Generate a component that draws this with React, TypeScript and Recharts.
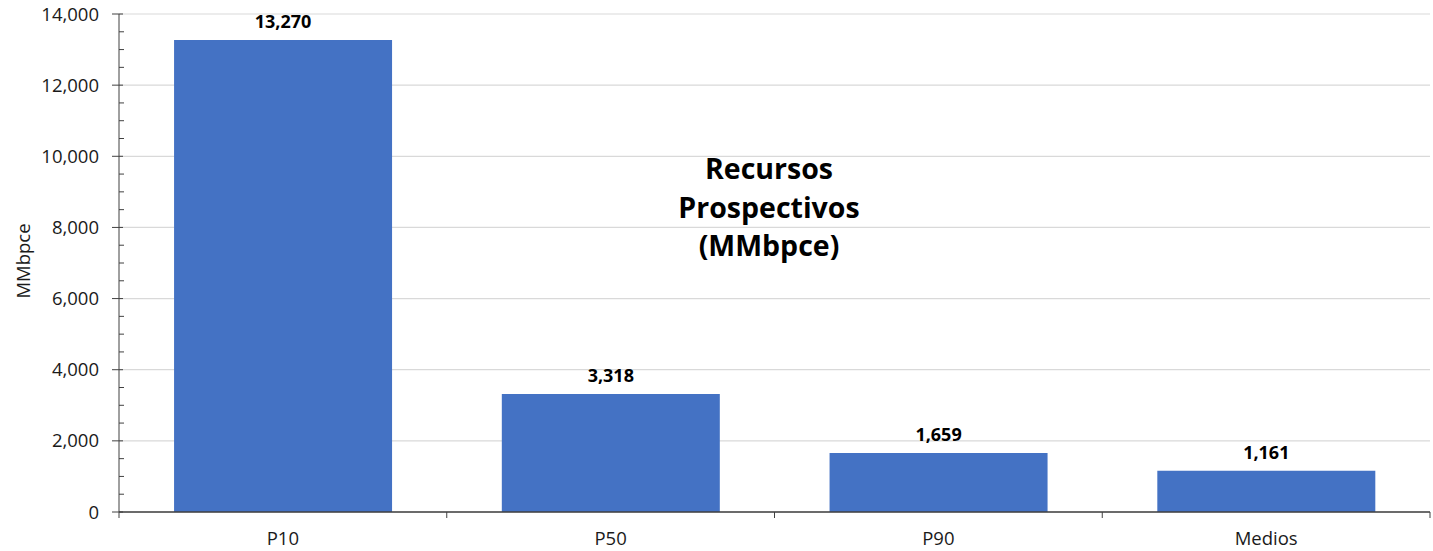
import React from 'react';
import { BarChart, Bar, XAxis, YAxis, CartesianGrid, LabelList, Customized } from 'recharts';

const categories = ['P10', 'P50', 'P90', 'Medios'];
const values = [13270, 3318, 1659, 1161];
const majorTicks = [0, 2000, 4000, 6000, 8000, 10000, 12000, 14000];
const allTicks = [0, 500, 1000, 1500, 2000, 2500, 3000, 3500, 4000, 4500, 5000, 5500, 6000, 6500, 7000, 7500, 8000, 8500, 9000, 9500, 10000, 10500, 11000, 11500, 12000, 12500, 13000, 13500, 14000];
const titleLines = ['Recursos', 'Prospectivos', '(MMbpce)'];
const yLabel = 'MMbpce';

const data = categories.map((c, i) => ({ name: c, value: values[i] }));

const FONT = '"Open Sans", "Noto Sans", sans-serif';
const fmt = (v: number) => v.toLocaleString('en-US');

const YTick = (props: any) => {
  const { x, y, payload } = props;
  const axisX = x + 20;
  const isMajor = majorTicks.includes(payload.value);
  return (
    <g>
      {isMajor ? (
        <line x1={axisX - 7} x2={axisX + 4} y1={y} y2={y} stroke="#404040" strokeWidth={1} />
      ) : (
        <line x1={axisX} x2={axisX + 5} y1={y} y2={y} stroke="#404040" strokeWidth={1} />
      )}
      {isMajor && (
        <text x={x} y={y} dy="0.355em" textAnchor="end" fontFamily={FONT} fontSize={18.5} fill="#1a1a1a">
          {fmt(payload.value)}
        </text>
      )}
    </g>
  );
};

const XTick = (props: any) => {
  const { x, y, payload, index, visibleTicksCount } = props;
  const axisY = y - 20;
  const off = payload && payload.offset ? payload.offset : 163.9;
  return (
    <g>
      <line x1={x - off} x2={x - off} y1={axisY} y2={axisY + 6} stroke="#404040" strokeWidth={1} />
      {index === visibleTicksCount - 1 && (
        <line x1={x + off} x2={x + off} y1={axisY} y2={axisY + 6} stroke="#404040" strokeWidth={1} />
      )}
      <text x={x} y={y} dy="0.71em" textAnchor="middle" fontFamily={FONT} fontSize={18.5} fill="#1a1a1a">
        {payload.value}
      </text>
    </g>
  );
};

const Title = () => (
  <text x={769} y={179} textAnchor="middle" fontFamily={FONT} fontSize={28.5} fontWeight="bold" fill="#000">
    {titleLines.map((l, i) => (
      <tspan key={i} x={769} y={179 + i * 38.5}>
        {l}
      </tspan>
    ))}
  </text>
);

export default function App() {
  return (
    <div style={{ position: 'absolute', left: 0, top: 0, width: 1433, height: 551, background: '#fff' }}>
      <BarChart
        width={1433}
        height={551}
        data={data}
        margin={{ top: 14, right: 3, bottom: 0, left: 0 }}
        barCategoryGap="16.8%"
      >
        <CartesianGrid horizontal vertical={false} horizontalValues={majorTicks} stroke="#d9d9d9" strokeWidth={1.2} />
        <XAxis
          dataKey="name"
          height={39}
          tickSize={0}
          tickMargin={20}
          tick={<XTick />}
          interval={0}
          axisLine={{ stroke: '#404040', strokeWidth: 1.3 }}
          tickLine={false}
        />
        <YAxis
          width={119}
          domain={[0, 14000]}
          ticks={allTicks}
          interval={0}
          tickSize={0}
          tickMargin={20}
          tick={<YTick />}
          tickLine={false}
          axisLine={{ stroke: '#404040', strokeWidth: 1 }}
          label={{
            content: (p: any) => {
              const cy = 261;
              return (
                <text
                  x={22}
                  y={cy}
                  transform={`rotate(-90, 22, ${cy})`}
                  textAnchor="middle"
                  dominantBaseline="central"
                  fontFamily={FONT}
                  fontSize={18.5}
                  fill="#1a1a1a"
                >
                  {yLabel}
                </text>
              );
            },
          }}
        />
        <Bar dataKey="value" fill="#4472c4" isAnimationActive={false}>
          <LabelList
            dataKey="value"
            position="top"
            offset={12}
            formatter={(v: any) => fmt(Number(v))}
            style={{ fontFamily: FONT, fontSize: 18, fontWeight: 'bold', fill: '#000' }}
          />
        </Bar>
        <Customized component={Title} />
      </BarChart>
    </div>
  );
}
